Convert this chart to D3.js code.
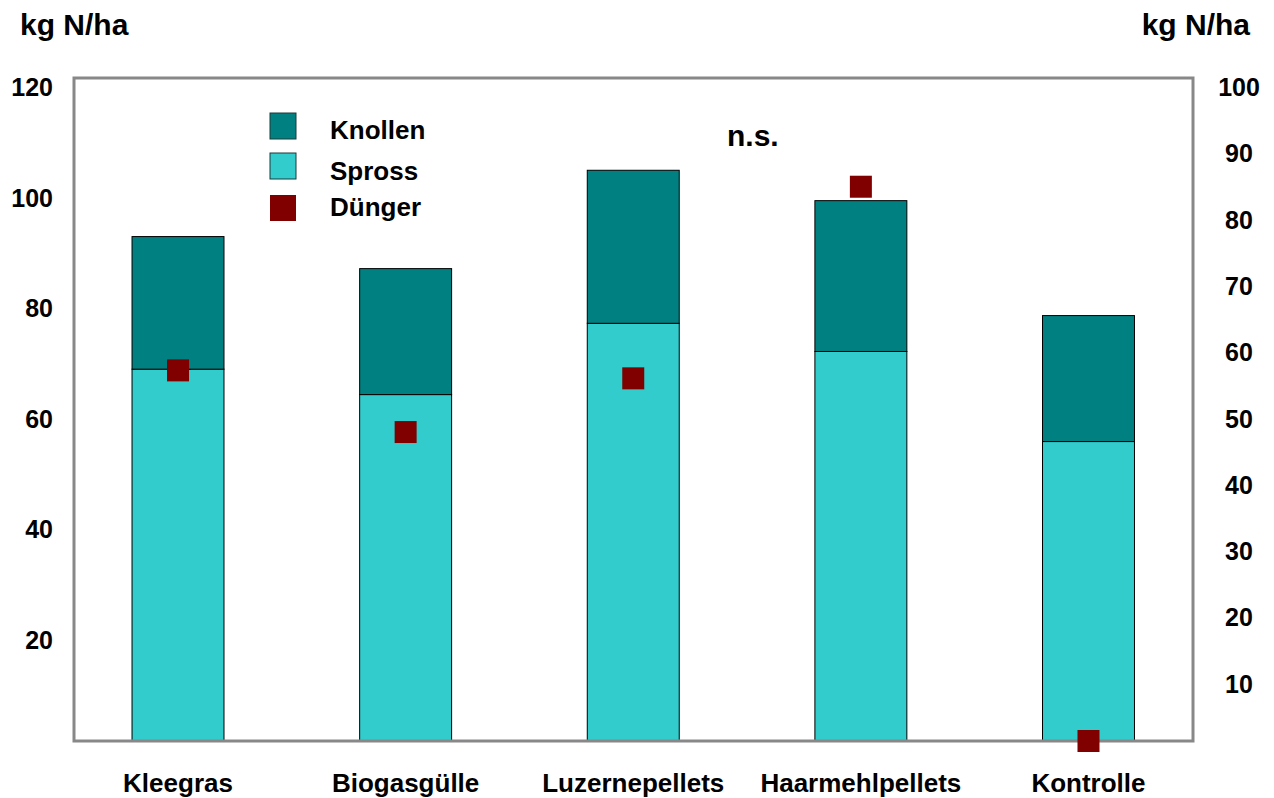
<!DOCTYPE html>
<html><head><meta charset="utf-8">
<script src="https://cdn.jsdelivr.net/npm/d3@7"></script>
<style>
html,body{margin:0;padding:0;background:#fff;}
text{font-family:"Liberation Sans",Arial,sans-serif;font-weight:bold;fill:#000;}
</style></head>
<body>
<svg id="chart" width="1274" height="798"></svg>
<script>
const categories = ["Kleegras","Biogasgülle","Luzernepellets","Haarmehlpellets","Kontrolle"];
const spross  = [67.3, 62.7, 75.6, 70.5, 54.2];
const knollen = [24.0, 22.8, 27.7, 27.3, 22.8];
const duenger = [55.9, 46.6, 54.7, 83.6, 0];
const leftTicks  = [20, 40, 60, 80, 100, 120];
const rightTicks = [10, 20, 30, 40, 50, 60, 70, 80, 90, 100];
const legendItems = ["Knollen", "Spross", "Dünger"];
const colors = {Knollen:"#008080", Spross:"#33CCCC", "Dünger":"#800000"};

const svg = d3.select("#chart");
const frame = {left:74, right:1193, top:78, bottom:741};

const x = d3.scaleBand().domain(categories).range([64.2, 1202.3])
  .paddingInner(0.596).paddingOuter(0.298);
const yL = d3.scaleLinear().domain([0,120]).range([frame.bottom, frame.top]);
const yR = d3.scaleLinear().domain([0,100]).range([frame.bottom, frame.top]);

// bars
const g = svg.append("g");
categories.forEach((c,i)=>{
  g.append("rect").attr("x", x(c)).attr("width", x.bandwidth())
    .attr("y", yL(spross[i])).attr("height", yL(0)-yL(spross[i]))
    .attr("fill", colors.Spross).attr("stroke","#000").attr("stroke-width",1);
  g.append("rect").attr("x", x(c)).attr("width", x.bandwidth())
    .attr("y", yL(spross[i]+knollen[i])).attr("height", yL(spross[i])-yL(spross[i]+knollen[i]))
    .attr("fill", colors.Knollen).attr("stroke","#000").attr("stroke-width",1);
});

// frame
svg.append("rect").attr("x",frame.left).attr("y",frame.top)
  .attr("width",frame.right-frame.left).attr("height",frame.bottom-frame.top)
  .attr("fill","none").attr("stroke","#888").attr("stroke-width",3);

// markers
const ms = 22;
categories.forEach((c,i)=>{
  const cx = x(c)+x.bandwidth()/2;
  svg.append("rect").attr("x",cx-ms/2).attr("y",yR(duenger[i])-ms/2)
    .attr("width",ms).attr("height",ms).attr("fill",colors["Dünger"]);
});

// left axis labels
svg.append("g").selectAll("text").data(leftTicks).join("text")
  .attr("x",53).attr("y",d=>yL(d)+18).attr("text-anchor","end")
  .style("font-size","25px").text(d=>d);
// right axis labels
svg.append("g").selectAll("text").data(rightTicks).join("text")
  .attr("x",1239).attr("y",d=>yR(d)+18).attr("text-anchor","middle")
  .style("font-size","25px").text(d=>d);

// category labels
svg.append("g").selectAll("text").data(categories).join("text")
  .attr("x",d=>x(d)+x.bandwidth()/2).attr("y",792).attr("text-anchor","middle")
  .style("font-size","26px").text(d=>d);

// unit titles
svg.append("text").attr("x",20).attr("y",35).style("font-size","30px").text("kg N/ha");
svg.append("text").attr("x",1250).attr("y",35).attr("text-anchor","end").style("font-size","30px").text("kg N/ha");

// n.s.
svg.append("text").attr("x",727).attr("y",146).style("font-size","30px").text("n.s.");

// legend
const legY = [113, 153, 195];
const legTextY = [139, 180, 216];
legendItems.forEach((k,i)=>{
  const r = svg.append("rect").attr("x",270).attr("y",legY[i]).attr("width",26).attr("height",26)
    .attr("fill",colors[k]);
  if (k!=="Dünger") r.attr("stroke","#1a3a3a").attr("stroke-width",1);
  svg.append("text").attr("x",330).attr("y",legTextY[i]).style("font-size","26px").text(k);
});
</script>
</body></html>
